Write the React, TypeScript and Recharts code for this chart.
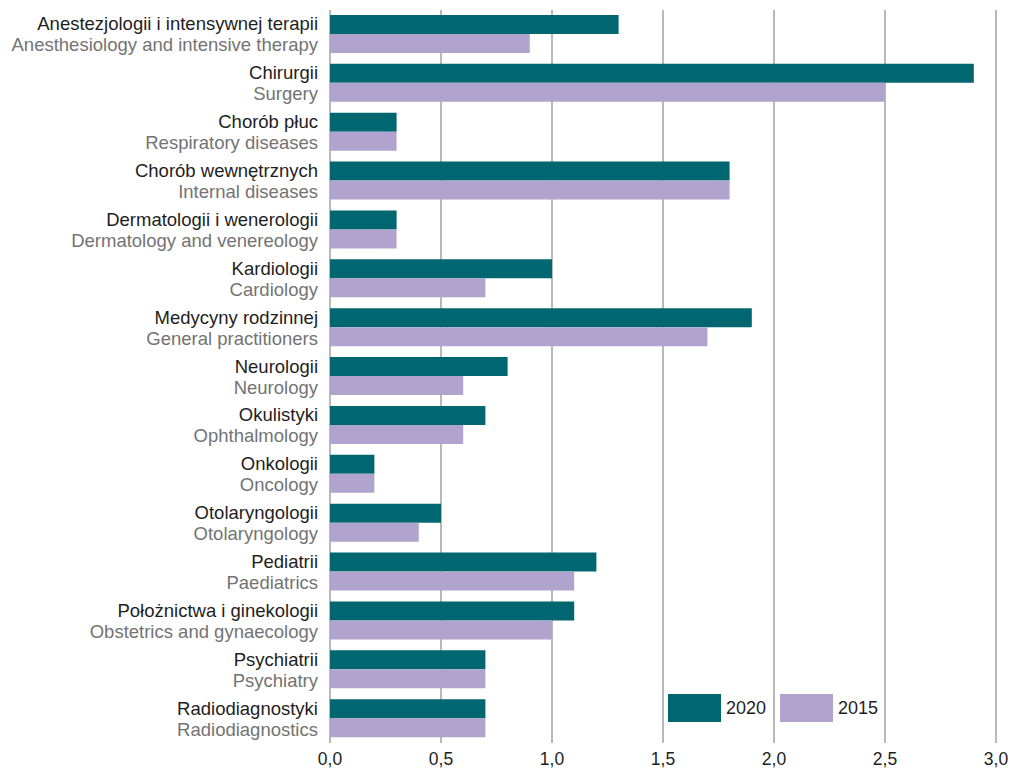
import React from "react";
import { BarChart, Bar, XAxis, YAxis, CartesianGrid } from "recharts";

const categoriesPl = [
  "Anestezjologii i intensywnej terapii",
  "Chirurgii",
  "Chorób płuc",
  "Chorób wewnętrznych",
  "Dermatologii i wenerologii",
  "Kardiologii",
  "Medycyny rodzinnej",
  "Neurologii",
  "Okulistyki",
  "Onkologii",
  "Otolaryngologii",
  "Pediatrii",
  "Położnictwa i ginekologii",
  "Psychiatrii",
  "Radiodiagnostyki",
];
const categoriesEn = [
  "Anesthesiology and intensive therapy",
  "Surgery",
  "Respiratory diseases",
  "Internal diseases",
  "Dermatology and venereology",
  "Cardiology",
  "General practitioners",
  "Neurology",
  "Ophthalmology",
  "Oncology",
  "Otolaryngology",
  "Paediatrics",
  "Obstetrics and gynaecology",
  "Psychiatry",
  "Radiodiagnostics",
];
const values2020 = [1.3, 2.9, 0.3, 1.8, 0.3, 1.0, 1.9, 0.8, 0.7, 0.2, 0.5, 1.2, 1.1, 0.7, 0.7];
const values2015 = [0.9, 2.5, 0.3, 1.8, 0.3, 0.7, 1.7, 0.6, 0.6, 0.2, 0.4, 1.1, 1.0, 0.7, 0.7];
const xTicks = [0, 0.5, 1, 1.5, 2, 2.5, 3];
const seriesNames = ["2020", "2015"];

const data = categoriesPl.map((pl, i) => ({
  pl,
  en: categoriesEn[i],
  y2020: values2020[i],
  y2015: values2015[i],
}));

const FONT = "'Liberation Sans', Arial, sans-serif";
const C2020 = "#006770";
const C2015 = "#b0a4ce";

const YTick = (props: any) => {
  const { x, y, payload } = props;
  const idx = categoriesPl.indexOf(payload.value);
  return (
    <g>
      <text x={x - 4} y={y - 4} textAnchor="end" fontSize={18.5} fill="#1e1e1e" fontFamily={FONT}>
        {payload.value}
      </text>
      <text x={x - 4} y={y + 17} textAnchor="end" fontSize={18.5} fill="#737373" fontFamily={FONT}>
        {categoriesEn[idx]}
      </text>
    </g>
  );
};

export default function App() {
  return (
    <div style={{ width: 1012, height: 771, position: "relative" }}>
      <style>{"body{margin:0;}"}</style>
      <BarChart
        width={1012}
        height={771}
        data={data}
        layout="vertical"
        margin={{ top: 10, right: 16, bottom: 0, left: 0 }}
        barCategoryGap={5}
        barGap={0}
      >
        <CartesianGrid horizontal={false} vertical={true} stroke="#8a8a8a" strokeWidth={1.2} />
        <XAxis
          type="number"
          domain={[0, 3]}
          ticks={xTicks}
          tickFormatter={(v: number) => v.toFixed(1).replace(".", ",")}
          axisLine={false}
          tickLine={false}
          height={28}
          tick={{ fontSize: 17.5, fill: "#1e1e1e", fontFamily: FONT }}
          tickMargin={4}
        />
        <YAxis
          type="category"
          dataKey="pl"
          width={330}
          axisLine={false}
          tickLine={false}
          tick={<YTick />}
          interval={0}
        />
        <Bar dataKey="y2020" name={seriesNames[0]} fill={C2020} isAnimationActive={false} />
        <Bar dataKey="y2015" name={seriesNames[1]} fill={C2015} isAnimationActive={false} />
      </BarChart>
      <div
        style={{
          position: "absolute",
          left: 668,
          top: 694,
          display: "flex",
          alignItems: "center",
          fontFamily: FONT,
          fontSize: 18,
          color: "#1e1e1e",
        }}
      >
        <div style={{ width: 53, height: 28, background: C2020 }} />
        <span style={{ marginLeft: 5, width: 54 }}>{seriesNames[0]}</span>
        <div style={{ width: 53, height: 28, background: C2015 }} />
        <span style={{ marginLeft: 5 }}>{seriesNames[1]}</span>
      </div>
    </div>
  );
}
